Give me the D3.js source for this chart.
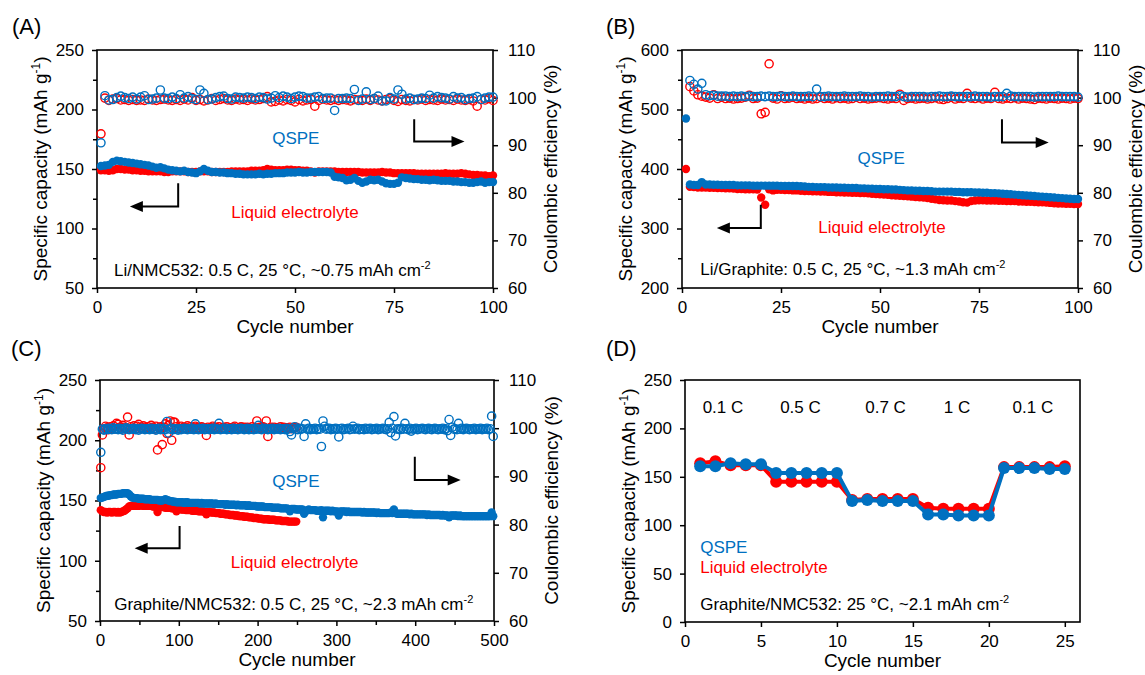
<!DOCTYPE html>
<html>
<head>
<meta charset="utf-8">
<script src="https://cdn.jsdelivr.net/npm/d3@7"></script>
<style>
body { margin: 0; background: #fff; }
svg text { font-family: "Liberation Sans", Arial, sans-serif; fill: #000; }
.tick text { font-size: 17px; }
</style>
</head>
<body>
<div class="content"></div>
<script>
// VARIABLES
var w = 1145,
    h = 675,
    blue = '#0070c0',
    red = '#ff0000';


// DATA
// (A) Li/NMC532, cycles 1-100
var aQspeCap = [152.5,153,153.5,156,157,156.5,156,155.5,155,154.5,
    154,153.5,153,152,151,151.5,150.5,149.5,149,148.5,
    148,148.5,147.5,147,146.5,148,150,148.5,147.5,147.5,
    147,147,146.5,146.5,146,146,145.5,145.5,145.5,145.5,
    146,145.5,146,146,146.5,146.5,146.5,147,147,147,
    147.5,147,147,147.5,147.5,147.5,147.5,147.5,147,143.5,
    143,142.5,140.5,141,142.5,140,138.5,139.5,141,140.5,
    141,139.5,138,137.5,137.5,138.5,143,142.5,142,141.5,
    141.5,141,141,140.5,141,140.5,140,140,140,139.5,
    139.5,139,139,138.5,138.5,139,139.5,138.5,139,139];
var aLiqCap = [149,149,148.5,149,150,150,149.5,149.5,149,149,
    148.5,148.5,148,148,148,148,147.5,147.5,148,148,
    148,148,147.5,147.5,147.5,148,148,148,147.5,147.5,
    147.5,147.5,147.5,148,148,148,148,148,148.5,148.5,
    148.5,149,150,149.5,149,149,149,149.5,149.5,149,
    149,148.5,148.5,148,147,148,148,148,148,148,
    147.5,147.5,147.5,147.5,147.5,147.5,147,147,147,147,
    147,147.5,147,147,146.5,146.5,146.5,146.5,146.5,146.5,
    146,146,146,146,146,146,146,146.5,146,146,
    146,146.5,146,145.5,145,145,144.5,144.5,144,144.5];
var aQspeCE = [90.5,100.4,99.5,99.6,100,100.3,100,99.8,100.1,99.7,
    100.1,100.4,99.6,99.7,99.9,101.6,99.9,99.8,100.1,99.8,
    100.6,99.9,100.2,99.8,99.6,101.6,100.9,99.6,99.7,100,
    100.2,100.3,99.8,99.7,100.1,100,99.9,100.1,100,99.8,
    100.1,100,99.7,99.9,100.4,100,100.3,100.1,99.8,100.1,
    100.3,100.2,99.9,99.9,100.1,100.2,99.8,99.9,99.9,97.3,
    99.8,99.8,99.9,99.8,101.7,99.4,99.7,101.2,99.6,99.8,
    100.3,99.3,99.3,100,99.7,101.6,100.7,99.7,99.9,99.6,
    99.7,99.9,99.8,100.5,99.9,100.2,100,99.9,99.7,100.2,
    99.9,100,99.6,99.8,99.9,100.2,99.6,99.9,100.1,100.1];
var aLiqCE = [92.4,99.9,99.4,99.7,99.8,99.5,99.6,99.4,99.6,99.4,
    99.5,99.4,99.7,99.5,99.4,99.6,99.7,99.5,99.4,99.6,
    99.4,99.7,99.5,100,99.4,99.6,99.3,99.5,99.8,99.4,
    99.6,99.8,99.5,99.4,99.7,99.5,99.6,99.4,99.7,99.5,
    99.6,99.8,100.2,99.1,99.2,99.5,99.3,99.6,99.4,99.1,
    99.6,99.3,99.5,99.6,98.2,99.4,99.7,99.5,99.4,99.6,
    99.4,99.6,99.5,99.3,99.6,99.5,99.4,99.7,99.4,99.8,
    99.5,99.3,99.6,99.8,99.4,99.2,99.6,99.4,99.3,99.6,
    99.5,99.7,99.4,99.6,99.5,99.4,99.7,99.5,99.6,99.4,
    99.7,99.5,99.4,99.6,99.3,98.2,99.6,99.5,99.8,99.4];

// (B) Li/Graphite, cycles 1-100
var bQspeCap = [485,374,373,373,378,374,374,373.5,373.5,373,
    373,373,373,372.5,372.5,372.5,372.5,372,372,372,
    372,372,372,372,371.5,371.5,371.5,371.5,371.5,371,
    370.5,370,370,369.5,369.5,369.5,369,369,369,368.5,
    368.5,368,368,368,367.5,367.5,367,367,366.5,366.5,
    366,366,365.5,365.5,365,364.5,364,364,363.5,363.5,
    363,363,362.5,362,362,362,362,362,361.5,361.5,
    361,361,361,360.5,360.5,360,360,359.5,359.5,359,
    358.5,358,357.5,357,356.5,356,355.5,355,354.5,354,
    353.5,353,352.5,352,351.5,351,350.5,350,349.5,349.5];
var bLiqCap = [400,370,369.5,369,369,369,368.5,368.5,368,368,
    367.5,367.5,367,366.5,366.5,366,366,366,365.5,352,
    340,366,364,365,365,364.5,364.5,364,364,363.5,
    363,363,362.5,362.5,362,362,361.5,361.5,361,361,
    360.5,360.5,360,360,359.5,359.5,359,358.5,358,357.5,
    357,356.5,356,355.5,355,354.5,354,353.5,353,352.5,
    352,351,350,349,348,347.5,347,347,346,345.5,
    344,343.5,346,347,347.5,347.5,347,347,347,346.5,
    346.5,346,346,346,345.5,345.5,345,345,344.5,344,
    344,343.5,343,342.5,342,342,341.5,341.5,341,341];
var bQspeCE = [null,103.6,102.8,101.8,103,100.6,100.4,100.5,100.3,100.3,
    100.3,100.2,100.3,100.2,100.3,100.2,100.3,100.2,100.2,100.3,
    100.2,100.3,100.2,100.2,100.3,100.2,100.2,100.3,100.2,100.2,
    100.2,100.3,100.2,101.8,100.2,100.2,100.3,100.2,100.2,100.2,
    100.3,100.2,100.2,100.2,100.3,100.2,100.2,100.1,100.2,100.2,
    100.2,100.3,100.2,100.2,100.4,100.2,100.1,100.2,100.2,100.2,
    100.2,100.1,100.2,100.2,100.3,100.2,100.2,100.3,100.2,100.2,
    100.2,100.2,100.2,100.3,100.2,100.2,100.2,100.1,100.2,100.2,
    100.2,100.9,100.3,100.2,100.2,100.2,100.2,100.2,100.1,100.2,
    100.2,100.2,100.2,100.2,100.3,100.2,100.2,100.2,100.2,100.1];
var bLiqCE = [null,102.3,101.4,100.6,100.3,100.1,99.9,100.6,99.8,100.1,
    99.8,99.9,99.7,99.8,99.9,100.1,100.5,99.8,99.9,96.6,
    96.9,107.1,99.9,99.7,100.4,99.8,99.9,100.1,99.8,99.9,
    99.7,99.9,99.7,99.8,100.1,99.8,99.9,99.7,100,99.8,
    99.9,99.7,99.8,100.1,99.8,99.9,99.7,99.8,99.9,100,
    99.8,99.7,99.9,99.8,100.7,99.4,99.8,99.9,99.7,99.8,
    99.9,99.7,99.8,100,99.7,99.6,99.8,100.1,99.7,99.9,
    99.8,100.9,99.9,99.8,100,99.7,99.9,99.8,101.1,99.8,
    99.7,99.9,99.8,100,99.7,99.9,99.8,99.7,99.6,99.9,
    99.8,99.7,99.9,99.8,99.7,99.9,99.8,99.7,99.9,99.8];

// (C) Graphite/NMC532, QSPE read every 2nd cycle 1-499, liquid 1-249
var cQspeCap = [152,152.5,153,153.5,154,154,154.5,154.5,155,155,
    155,155.5,155.5,155.5,156,156,156,156,155,153.5,
    152.5,152,152,152,151.5,151.5,151.5,151.5,151,151,
    151,151,150.5,150.5,150.5,150.5,150.5,150,150,150,
    150.5,151,150.5,150,149.5,149.5,149,149,148.5,148.5,
    148.5,148.5,148.5,148,148.5,148.5,148,148,148,148,
    148,148,148,147.5,148,147.5,147.5,147.5,147.5,147.5,
    147.5,147.5,147,147.5,147,147,147,147,147,146.5,
    147,146.5,146.5,146.5,146.5,146.5,146,146.5,146,146,
    146,146,146,145.5,146,145.5,145.5,145.5,145.5,145,
    145,145,145,145,144.5,144.5,144.5,144.5,144.5,144,
    144,144,144,144,143.5,143.5,143.5,143.5,143.5,143,
    141,143,143,143,142.5,142.5,142.5,142.5,142.5,139,
    141,142,142.5,142,142,142,142,141.5,141.5,141.5,
    142,136,141.5,141.5,141.5,141.5,141,141.5,141,141,
    141,137.5,141,141,141,141,140.5,141,140.5,140.5,
    140.5,140.5,140.5,140.5,140.5,140.5,140,140.5,140,140,
    140,140,140,140,140,139.5,140,139.5,139.5,139.5,
    139.5,139.5,139.5,139.5,140,139.5,142.5,139.5,139,139,
    139,139,139,139,139,139,138.5,139,138.5,138.5,
    138.5,138.5,138.5,138.5,138.5,138.5,138.5,138,138.5,138,
    138,138,138,138,138,138,137.5,138,137.5,137.5,
    137.5,136,137.5,137.5,137.5,137.5,137.5,137,137.5,137,
    137,137,137,137,137,137,137,137,137,137,
    137,137,137,137,137,137,137,137,140,137];
var cLiqCap = [142,141,140.5,140.5,140,140.5,140.5,140,140.5,140.5,
    140,140.5,140,140.5,141,141.5,142.5,143.5,145,145.5,
    145.5,145.5,145.5,146,145.5,146,146,145.5,145.5,146,
    145.5,145.5,145.5,145,145,145,140.5,145,144.5,144.5,
    144.5,144,144,144,144,143.5,143.5,143.5,141,143,
    143,142.5,142.5,142.5,142,142,142,142,141.5,141.5,
    141.5,141.5,141,141,141,141,140.5,138.5,140.5,140.5,
    140,140,140,139.5,139.5,139.5,139,139,139,138.5,
    138.5,138.5,138,138,138,137.5,137.5,137.5,137,137,
    137,136.5,136.5,136.5,136,136,136,135.5,135.5,135.5,
    135,135,135,134.5,134.5,134.5,134.5,134,134,134,
    134,133.5,133.5,133.5,133.5,133,133,133,133,132.5,
    132.5,132.5,132.5,132.5,132.5];
var cQspeCE = [95,99.8,99.6,99.9,99.7,100,99.8,99.7,100.1,99.8,
    99.9,99.7,100,99.8,99.6,99.9,100.1,99.8,99.7,99.9,
    99.8,100,99.7,99.9,99.6,99.8,100,99.9,99.7,99.8,
    99.9,99.7,100,99.8,99.9,99.6,99.8,100,99.7,99.9,
    99.8,99.7,101.4,99,99.8,100,99.7,99.9,99.8,99.6,
    99.9,99.7,99.8,100,99.8,99.7,99.9,99.8,100,99.7,
    100.9,99.8,99.7,99.9,99.8,100,99.7,99.8,99.9,99.7,
    99.8,100,99.7,99.9,99.8,101,99.7,99.9,99.8,100,
    99.7,99.9,99.8,99.7,100,99.8,99.9,99.7,99.8,100,
    99.9,99.7,99.8,100,99.7,99.9,99.8,99.7,100,99.8,
    100.6,99.8,99.7,99.9,100,99.8,99.7,99.9,99.8,100,
    99.7,99.9,99.8,100,99.7,99.8,99.9,99.7,100,99.8,
    99.3,98.6,99.9,100.3,99.8,99.7,100,99.8,99.9,98.3,
    100.9,99.8,100,99.7,99.9,99.8,100,99.7,99.9,99.8,
    96.2,101.5,100.4,99.8,99.9,100,99.7,99.9,99.8,100,
    99.8,98.2,99.9,100,99.7,99.8,99.9,100,99.7,99.8,
    100.4,99.8,99.9,100,99.7,99.8,99.9,99.7,100,99.8,
    99.9,100,99.7,99.8,99.9,100,99.7,99.8,99.9,100,
    99.8,99.7,99.9,101.2,99.1,100,102.4,98.4,99.8,99.9,
    99.7,100,99.8,101,99.9,99.7,100,99.4,99.8,99.9,
    100,99.7,99.8,99.9,100,99.8,99.7,99.9,100,99.8,
    99.7,99.9,100,99.8,99.7,99.9,99.8,100,99.7,99.9,
    99.5,101.8,98.5,100.2,99.8,99.9,99.7,101,99.8,100,
    99.7,99.9,100,99.8,99.7,99.9,99.8,100,99.7,99.9,
    99.8,100,99.7,99.9,99.8,100,99.7,99.9,102.5,98.3];
var cLiqCE = [91.8,98.6,99.8,100.4,100.1,99.7,100.3,100,100.5,99.9,
    101,100.8,100.2,99.8,100.6,100.2,99.9,102.3,98.6,100.3,
    100,100.5,99.8,100.4,100.8,100.1,99.9,100.5,100.2,99.9,
    100.3,100,100.6,100.2,99.8,100.4,95.5,100.1,100.3,96.6,
    100.2,100.9,98.9,100.6,101.5,97.5,101.3,101.2,100.3,100,
    99.8,100.4,100.1,100.2,99.9,100.5,100,100.3,99.8,100.1,
    100.4,100,100.2,99.9,100.3,100.1,99.8,98.5,100.2,100,
    100.1,100.4,99.9,100.2,100,100.3,99.8,100.1,100.2,99.9,
    100.3,100,100.1,99.9,100.2,100.4,99.8,100,100.1,100.3,
    99.9,100.2,100,100.2,100.1,99.8,100.3,100,100.1,101.5,
    100,100.2,99.9,100.3,100.1,101.5,98.3,100,100.2,99.9,
    100.2,100,100.1,99.9,100.3,100,100.2,99.8,100.1,100,
    100.2,99.9,100.1,100,100.2];

// (D) rate test, cycles 1-25
var dQspeCap = [161,161,164,163,163,154,154,154,154,154,
    125,126,125,125,125,111,111,110,110,110,159,159,159,158,158];
var dLiqCap = [164,166,162,162,162,145,145,145,145,145,
    126,127,127,127,127,118,117,117,117,117,160,160,160,160,161];
var dRates = ['0.1 C', '0.5 C', '0.7 C', '1 C', '0.1 C'];
var dRateAt = [2.5, 7.6, 13.2, 17.9, 22.9];

var aCycles = d3.range(1, 101),
    bCycles = d3.range(1, 101),
    cQspeCycles = d3.range(1, 500, 2),
    cLiqCycles = d3.range(1, 250, 2),
    dCycles = d3.range(1, 26);


// PREPARE SVG
var svg = d3.select('.content').append('svg')
    .attr('width', w)
    .attr('height', h);


// HELPERS
function pts(cycles, vals) {
    return vals.map(function(v, i) { return {c: cycles[i], v: v}; })
        .filter(function(d) { return d.v != null; });
}

function styleAxis(sel) {
    sel.select('.domain').remove();
    sel.selectAll('.tick line').attr('stroke', '#000').attr('stroke-width', 1.5);
    sel.selectAll('.tick text').attr('fill', '#000');
}

function panel(p) {
    var g = svg.append('g');
    var x = d3.scaleLinear().domain(p.xDomain).range([p.x0, p.x1]);
    var y = d3.scaleLinear().domain(p.yDomain).range([p.y1, p.y0]);
    var y2 = p.y2Domain ? d3.scaleLinear().domain(p.y2Domain).range([p.y1, p.y0]) : null;

    g.append('g').attr('transform', 'translate(0,' + p.y1 + ')')
        .call(d3.axisBottom(x).tickValues(p.xTicks).tickSize(5).tickSizeOuter(0).tickPadding(8))
        .call(styleAxis);
    if (p.xMinor) g.append('g').attr('transform', 'translate(0,' + p.y1 + ')')
        .call(d3.axisBottom(x).tickValues(p.xMinor).tickSize(4).tickSizeOuter(0).tickFormat(''))
        .call(styleAxis);

    g.append('g').attr('transform', 'translate(' + p.x0 + ',0)')
        .call(d3.axisLeft(y).tickValues(p.yTicks).tickSize(5).tickSizeOuter(0).tickPadding(8))
        .call(styleAxis);
    if (p.yMinor) g.append('g').attr('transform', 'translate(' + p.x0 + ',0)')
        .call(d3.axisLeft(y).tickValues(p.yMinor).tickSize(4).tickSizeOuter(0).tickFormat(''))
        .call(styleAxis);

    if (y2) g.append('g').attr('transform', 'translate(' + p.x1 + ',0)')
        .call(d3.axisRight(y2).tickValues(p.y2Ticks).tickSize(5).tickSizeOuter(0).tickPadding(10))
        .call(styleAxis);

    g.append('rect')
        .attr('x', p.x0).attr('y', p.y0)
        .attr('width', p.x1 - p.x0).attr('height', p.y1 - p.y0)
        .attr('fill', 'none').attr('stroke', '#000').attr('stroke-width', 1.6);

    // titles
    g.append('text').attr('x', p.lx).attr('y', p.ly)
        .style('font-size', '22px').text(p.id);

    g.append('text').attr('x', (p.x0 + p.x1) / 2).attr('y', p.y1 + 45)
        .attr('text-anchor', 'middle').style('font-size', '19px').text('Cycle number');

    var yl = g.append('text')
        .attr('transform', 'translate(' + (p.x0 - 57) + ',' + (p.y0 + p.y1) / 2 + ') rotate(-90)')
        .attr('text-anchor', 'middle').attr('dy', '0.35em').style('font-size', '19px');
    yl.append('tspan').text('Specific capacity (mAh g');
    yl.append('tspan').attr('dy', -7).style('font-size', '12px').text('-1');
    yl.append('tspan').attr('dy', 7).text(')');

    if (y2) g.append('text')
        .attr('transform', 'translate(' + (p.x1 + 57) + ',' + (p.y0 + p.y1) / 2 + ') rotate(-90)')
        .attr('text-anchor', 'middle').attr('dy', '0.35em').style('font-size', '19px')
        .text('Coulombic efficiency (%)');

    var note = g.append('text').attr('x', x(p.note[0])).attr('y', y(p.note[1]))
        .attr('dy', '0.35em').style('font-size', '17px');
    note.append('tspan').text(p.note[2]);
    note.append('tspan').attr('dy', -7).style('font-size', '11px').text('-2');

    return {g: g, x: x, y: y, y2: y2};
}

function dots(p, data, scale, color, open, r) {
    p.g.append('g').selectAll('circle')
        .data(data)
        .enter()
        .append('circle')
        .attr('cx', function(d) { return p.x(d.c); })
        .attr('cy', function(d) { return scale(d.v); })
        .attr('r', r || (open ? 4.1 : 4.2))
        .attr('fill', open ? 'none' : color)
        .attr('stroke', open ? color : 'none')
        .attr('stroke-width', 1.4);
}

function label(p, cx, cy, txt, color, anchor) {
    p.g.append('text').attr('x', p.x(cx)).attr('y', p.y(cy))
        .attr('dy', '0.35em').attr('text-anchor', anchor || 'middle')
        .attr('fill', color).style('fill', color).style('font-size', '17px').text(txt);
}

// bent arrow: vertical at xv from yTop to yBot, then horizontal to xTip
function arrow(p, xv, yTop, yBot, xTip) {
    var X = p.x(xv), Y1 = p.y(yTop), Y2 = p.y(yBot), T = p.x(xTip);
    var dir = T > X ? 1 : -1;
    p.g.append('path')
        .attr('d', 'M' + X + ',' + Y1 + 'V' + Y2 + 'H' + (T - dir * 10))
        .attr('fill', 'none').attr('stroke', '#000').attr('stroke-width', 2);
    p.g.append('path')
        .attr('d', 'M' + T + ',' + Y2 + 'L' + (T - dir * 13) + ',' + (Y2 - 5.5) + 'L' + (T - dir * 13) + ',' + (Y2 + 5.5) + 'Z')
        .attr('fill', '#000');
}


// PANEL A
var pA = panel({id: '(A)', lx: 12, ly: 34, x0: 97, x1: 493, y0: 50, y1: 288,
    xDomain: [0, 100], xTicks: [0, 25, 50, 75, 100],
    yDomain: [50, 250], yTicks: [50, 100, 150, 200, 250], yMinor: [75, 125, 175, 225],
    y2Domain: [60, 110], y2Ticks: [60, 70, 80, 90, 100, 110],
    note: [4.3, 65.4, 'Li/NMC532: 0.5 C, 25 \u00b0C, ~0.75 mAh cm']});
dots(pA, pts(aCycles, aLiqCap), pA.y, red, false);
dots(pA, pts(aCycles, aQspeCap), pA.y, blue, false);
dots(pA, pts(aCycles, aLiqCE), pA.y2, red, true);
dots(pA, pts(aCycles, aQspeCE), pA.y2, blue, true);
label(pA, 50.2, 176.4, 'QSPE', blue);
label(pA, 50, 113.8, 'Liquid electrolyte', red);
arrow(pA, 20.5, 138.1, 118.5, 8.3);
arrow(pA, 80.1, 191.8, 173.1, 92.8);


// PANEL B
var pB = panel({id: '(B)', lx: 606, ly: 34, x0: 682, x1: 1078, y0: 50, y1: 288,
    xDomain: [0, 100], xTicks: [0, 25, 50, 75, 100],
    yDomain: [200, 600], yTicks: [200, 300, 400, 500, 600], yMinor: [250, 350, 450, 550],
    y2Domain: [60, 110], y2Ticks: [60, 70, 80, 90, 100, 110],
    note: [4.6, 232, 'Li/Graphite: 0.5 C, 25 \u00b0C, ~1.3 mAh cm']});
dots(pB, pts(bCycles, bLiqCap), pB.y, red, false);
dots(pB, pts(bCycles, bQspeCap), pB.y, blue, false);
dots(pB, pts(bCycles, bLiqCE), pB.y2, red, true);
dots(pB, pts(bCycles, bQspeCE), pB.y2, blue, true);
label(pB, 50.3, 419, 'QSPE', blue);
label(pB, 50.5, 301.8, 'Liquid electrolyte', red);
arrow(pB, 19.9, 339.9, 300.7, 8.8);
arrow(pB, 80.8, 483.6, 444.5, 92.6);


// PANEL C
var pC = panel({id: '(C)', lx: 11, ly: 356, x0: 100, x1: 494, y0: 380, y1: 621,
    xDomain: [0, 500], xTicks: [0, 100, 200, 300, 400, 500], xMinor: [50, 150, 250, 350, 450],
    yDomain: [50, 250], yTicks: [50, 100, 150, 200, 250], yMinor: [75, 125, 175, 225],
    y2Domain: [60, 110], y2Ticks: [60, 70, 80, 90, 100, 110],
    note: [18, 64, 'Graphite/NMC532: 0.5 C, 25 \u00b0C, ~2.3 mAh cm']});
dots(pC, pts(cLiqCycles, cLiqCap), pC.y, red, false);
dots(pC, pts(cQspeCycles, cQspeCap), pC.y, blue, false);
dots(pC, pts(cLiqCycles, cLiqCE), pC.y2, red, true);
dots(pC, pts(cQspeCycles, cQspeCE), pC.y2, blue, true);
label(pC, 248.6, 166.5, 'QSPE', blue);
label(pC, 247, 98.7, 'Liquid electrolyte', red);
arrow(pC, 101, 128.8, 110.3, 44);
arrow(pC, 399.5, 186.4, 167, 457.7);


// PANEL D
var pD = panel({id: '(D)', lx: 606, ly: 356, x0: 685, x1: 1080, y0: 380, y1: 622,
    xDomain: [0, 26], xTicks: [0, 5, 10, 15, 20, 25],
    yDomain: [0, 250], yTicks: [0, 50, 100, 150, 200, 250],
    note: [1, 19, 'Graphite/NMC532: 25 \u00b0C, ~2.1 mAh cm']});
var dLine = d3.line()
    .x(function(d) { return pD.x(d.c); })
    .y(function(d) { return pD.y(d.v); });
[[dLiqCap, red], [dQspeCap, blue]].forEach(function(s) {
    var data = pts(dCycles, s[0]);
    pD.g.append('path').datum(data).attr('d', dLine)
        .attr('fill', 'none').attr('stroke', s[1]).attr('stroke-width', 4);
    dots(pD, data, pD.y, s[1], false, 6);
});
dRates.forEach(function(t, i) { label(pD, dRateAt[i], 222.5, t, '#000'); });
label(pD, 1, 77.4, 'QSPE', blue, 'start');
label(pD, 1, 56.4, 'Liquid electrolyte', red, 'start');
</script>
</body>
</html>
